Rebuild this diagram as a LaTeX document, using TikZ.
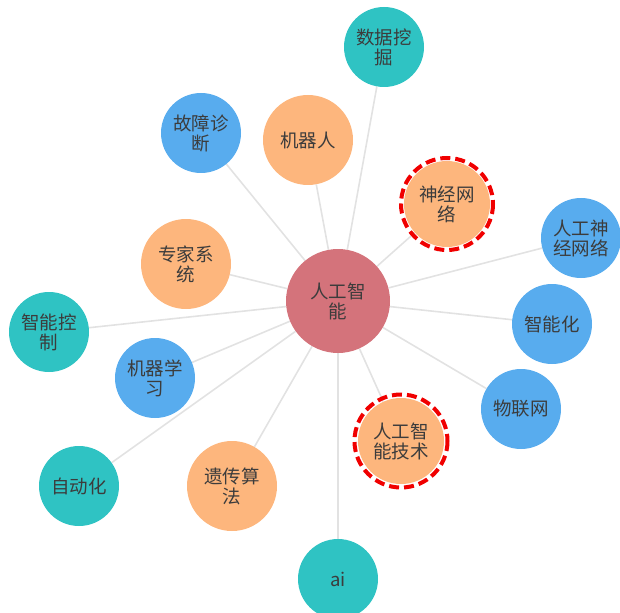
\documentclass[tikz,border=0pt]{standalone}
\usepackage{fontspec}
\newfontfamily\cjk{Noto Sans CJK SC}
\usetikzlibrary{backgrounds}
\definecolor{hubc}{HTML}{D4737B}
\definecolor{tealc}{HTML}{2FC3C3}
\definecolor{bluec}{HTML}{58ACEE}
\definecolor{orc}{HTML}{FDB67D}
\definecolor{txt}{HTML}{3C3C3C}
\definecolor{edgec}{HTML}{E2E2E2}
\definecolor{ringc}{HTML}{F00000}
\begin{document}
\begin{tikzpicture}[x=1pt,y=-1pt,
  leaf/.style={circle, inner sep=0pt, minimum size=80pt, align=center, text=txt,
    font=\cjk\fontsize{18.5}{20}\selectfont},
  hubnode/.style={leaf, fill=hubc, minimum size=104pt},
  tealnode/.style={leaf, fill=tealc},
  bluenode/.style={leaf, fill=bluec},
  orangenode/.style={leaf, fill=orc, minimum size=90pt},
  edge/.style={draw=edgec, line width=1.6pt},
  ring/.style={draw=ringc, line width=4pt, dash pattern=on 10pt off 5pt}]
\useasboundingbox (0,0) rectangle (620,612);
\node[hubnode] (hub) at (338,301) {人工智\\能};
\node[tealnode] (dm) at (384,47) {数据挖\\掘};
\node[orangenode] (robot) at (308,140) {机器人};
\node[bluenode] (fault) at (201,133) {故障诊\\断};
\node[orangenode, minimum size=86pt] (nn) at (447,204) {神经网\\络};
\node[bluenode] (ann) at (581,238) {人工神\\经网络};
\node[orangenode] (expert) at (186,264) {专家系\\统};
\node[tealnode] (ctrl) at (49,332) {智能控\\制};
\node[bluenode] (intel) at (552,324) {智能化};
\node[bluenode] (ml) at (155,378) {机器学\\习};
\node[bluenode] (iot) at (521,409) {物联网};
\node[orangenode, minimum size=86pt] (aitech) at (401,441) {人工智\\能技术};
\node[tealnode] (auto) at (79,486) {自动化};
\node[orangenode] (ga) at (232,486) {遗传算\\法};
\node[tealnode] (ai) at (338,579) {ai};
\draw[ring] (nn.center) circle[radius=46];
\draw[ring] (aitech.center) circle[radius=46.5];
\begin{scope}[on background layer]
\foreach \n in {dm,robot,fault,nn,ann,expert,ctrl,intel,ml,iot,aitech,auto,ga,ai}
  \draw[edge] (hub) -- (\n);
\end{scope}
\end{tikzpicture}
\end{document}
